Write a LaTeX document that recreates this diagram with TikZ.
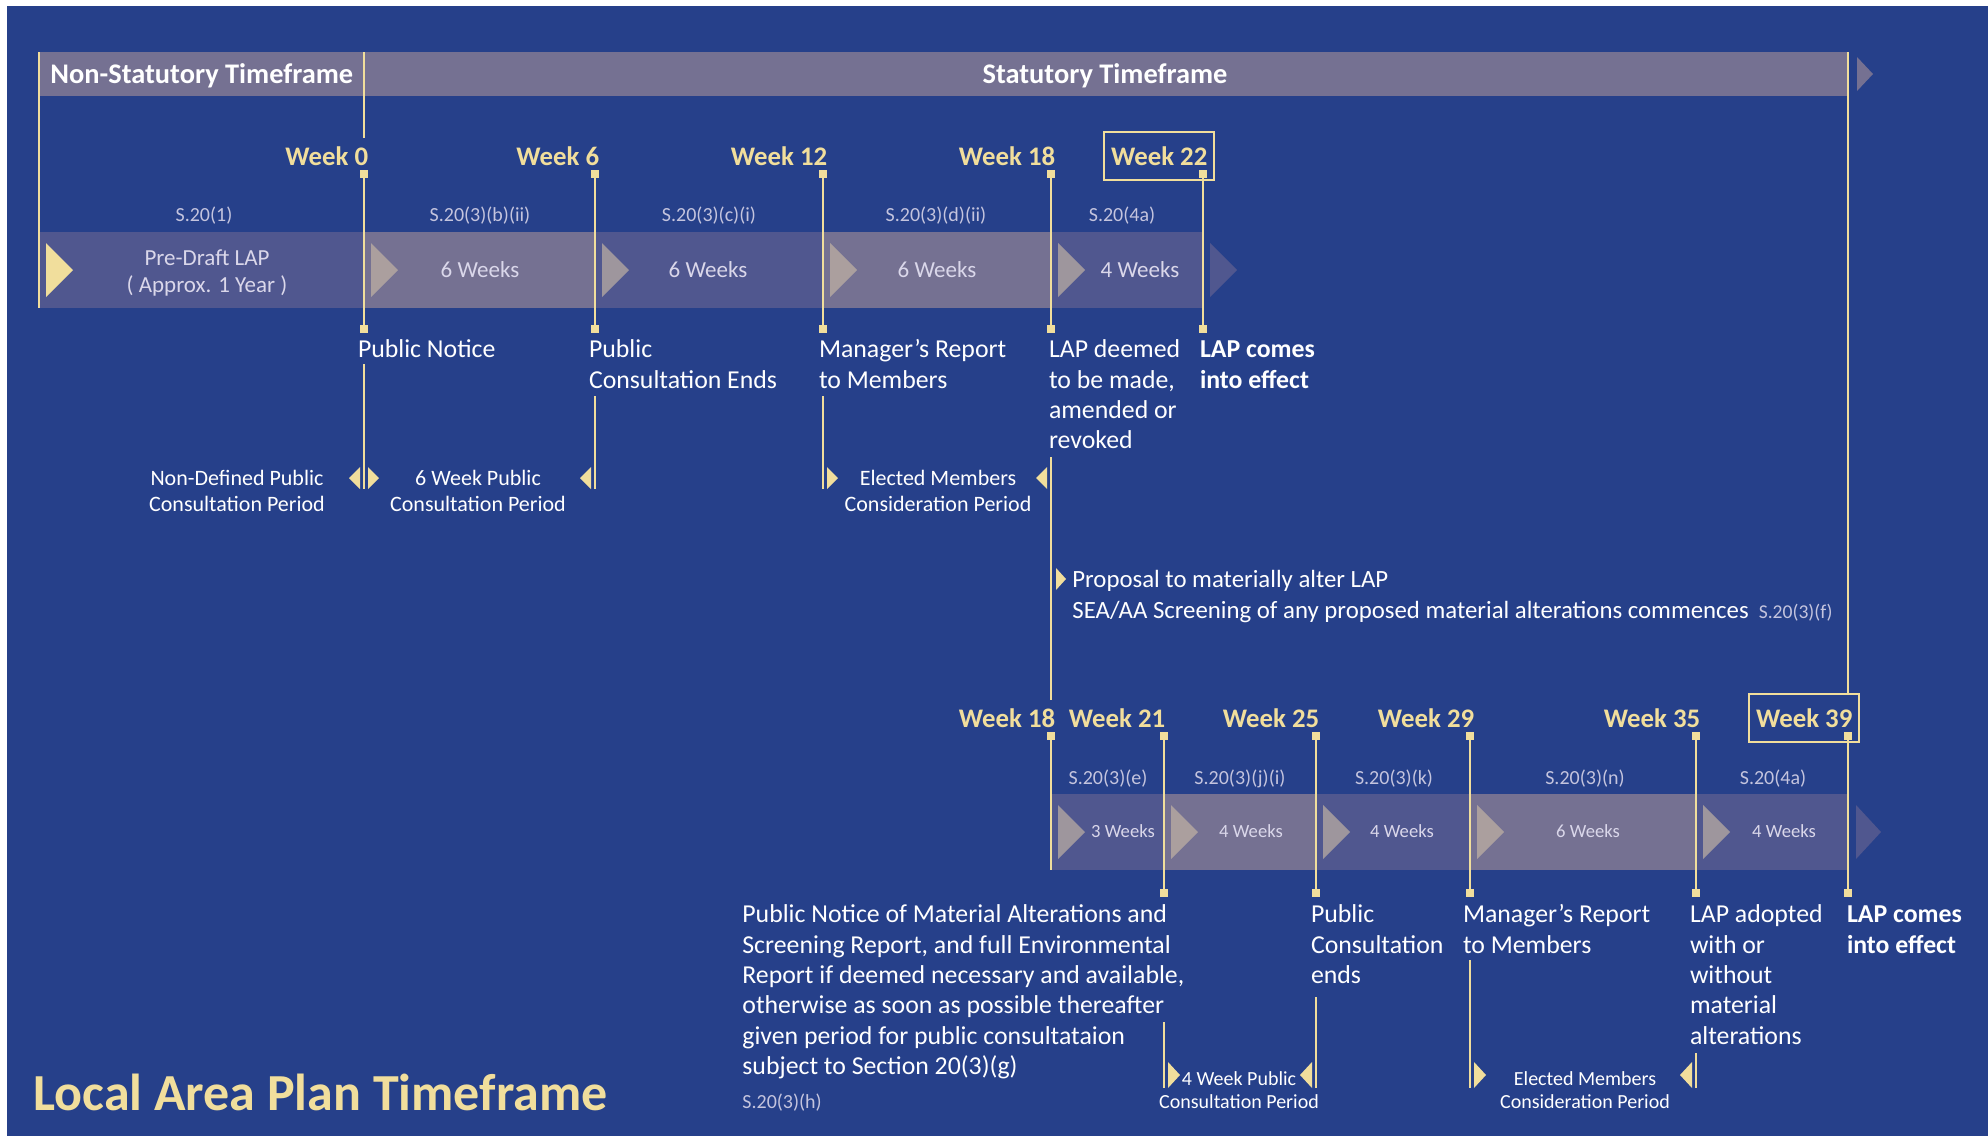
\documentclass[tikz,border=0pt]{standalone}
\usepackage{fontspec}
\setmainfont{Carlito}
\usepackage{tikz}
\usetikzlibrary{positioning}
\definecolor{lapblue}{RGB}{38,64,138}
\definecolor{lapyellow}{RGB}{241,222,156}
\definecolor{barlight}{RGB}{117,113,146}
\definecolor{bardark}{RGB}{80,87,143}
\definecolor{arrowgrey}{RGB}{200,185,165}
\definecolor{reftext}{RGB}{196,196,222}
\definecolor{stagetext}{RGB}{218,215,234}

\begin{document}
\begin{tikzpicture}[x=0.5pt, y=-0.5pt, inner sep=0pt]
	\tikzstyle{wkline}=[draw=lapyellow, line width=1.2pt]
	\tikzstyle{wkmark}=[fill=lapyellow, minimum size=4pt, inner sep=0pt]
	\tikzstyle{week}=[text=lapyellow, font=\fontsize{13.4}{15}\selectfont\bfseries, text height=9pt, text depth=0pt]
	\tikzstyle{weekbox}=[week, draw=lapyellow, line width=1pt, inner xsep=3.5pt, inner ysep=7.5pt]
	\tikzstyle{sref}=[text=reftext, font=\fontsize{10}{12}\selectfont]
	\tikzstyle{stage}=[text=stagetext, font=\fontsize{11.5}{13.5}\selectfont, align=center]
	\tikzstyle{stagesmall}=[text=stagetext, font=\fontsize{9.3}{11}\selectfont]
	\tikzstyle{event}=[text=white, font=\fontsize{12.9}{15.2}\selectfont, align=left]
	\tikzstyle{eventbold}=[event, font=\fontsize{12.9}{15.2}\selectfont\bfseries]
	\tikzstyle{period}=[text=white, font=\fontsize{11}{13}\selectfont, align=center]
	\tikzstyle{periodsmall}=[text=white, font=\fontsize{10}{11.5}\selectfont, align=center]
	\tikzstyle{segarrow}=[fill=arrowgrey, fill opacity=0.65]
	\tikzstyle{yflag}=[fill=lapyellow]

	\useasboundingbox (0,0) rectangle (1988,1136);
	\fill[white] (0,0) rectangle (1988,1136);
	\fill[lapblue] (7,6) rectangle (1988,1136);

	% timeframe bar
	\fill[barlight] (39,52) rectangle (1848,96);
	\fill[barlight] (1857,57) -- (1873,74) -- (1857,91) -- cycle;
	\node[text=white, font=\fontsize{14.2}{16}\selectfont\bfseries, anchor=base west] (nst) at (50,83) {Non-Statutory Timeframe};
	\node[text=white, font=\fontsize{14.2}{16}\selectfont\bfseries, anchor=base] (st) at (1105,83) {Statutory Timeframe};

	% first stage bar
	\fill[bardark]  (39,232)   rectangle (364,308);
	\fill[barlight] (364,232)  rectangle (595,308);
	\fill[bardark]  (595,232)  rectangle (823,308);
	\fill[barlight] (823,232)  rectangle (1051,308);
	\fill[bardark]  (1051,232) rectangle (1203,308);
	\fill[bardark]  (1210,243) -- ++(27,27) -- ++(-27,27) -- cycle;
	\fill[yflag]    (46,243)   -- ++(27,27) -- ++(-27,27) -- cycle;
	\fill[segarrow] (371,243)  -- ++(27,27) -- ++(-27,27) -- cycle;
	\fill[segarrow] (602,243)  -- ++(27,27) -- ++(-27,27) -- cycle;
	\fill[segarrow] (830,243)  -- ++(27,27) -- ++(-27,27) -- cycle;
	\fill[segarrow] (1058,243) -- ++(27,27) -- ++(-27,27) -- cycle;

	\node[sref, anchor=base] (r1) at (204,221)  {S.20(1)};
	\node[sref, anchor=base] (r2) at (480,221)  {S.20(3)(b)(ii)};
	\node[sref, anchor=base] (r3) at (709,221)  {S.20(3)(c)(i)};
	\node[sref, anchor=base] (r4) at (936,221)  {S.20(3)(d)(ii)};
	\node[sref, anchor=base] (r5) at (1122,221) {S.20(4a)};

	\node[stage, anchor=north] (s1) at (207,246) {\strut Pre-Draft LAP\\( Approx. 1 Year )};
	\node[stage, anchor=base]  (s2) at (480,277)  {6 Weeks};
	\node[stage, anchor=base]  (s3) at (708,277)  {6 Weeks};
	\node[stage, anchor=base]  (s4) at (937,277)  {6 Weeks};
	\node[stage, anchor=base]  (s5) at (1140,277) {4 Weeks};

	% first row of milestones
	\node[wkmark] (m0a)  at (364,174)  {};
	\node[wkmark] (m0b)  at (364,329)  {};
	\node[wkmark] (m6a)  at (595,174)  {};
	\node[wkmark] (m6b)  at (595,329)  {};
	\node[wkmark] (m12a) at (823,174)  {};
	\node[wkmark] (m12b) at (823,329)  {};
	\node[wkmark] (m18a) at (1051,174) {};
	\node[wkmark] (m18b) at (1051,329) {};
	\node[wkmark] (m22a) at (1203,174) {};
	\node[wkmark] (m22b) at (1203,329) {};

	\node[week, above left=2pt and -4.5pt of m0a]  (w0)  {Week 0};
	\node[week, above left=2pt and -4.5pt of m6a]  (w6)  {Week 6};
	\node[week, above left=2pt and -4.5pt of m12a] (w12) {Week 12};
	\node[week, above left=2pt and -4.5pt of m18a] (w18) {Week 18};
	\node[weekbox, above left=-1.5pt and -4pt of m22a.south east] (w22) {Week 22};

	\node[event, below right=1.35pt and -1pt of m0b.south west]  (e0)  {\strut Public Notice};
	\node[event, below right=1.35pt and -1pt of m6b.south west]  (e6)  {\strut Public\\Consultation Ends};
	\node[event, below right=1.35pt and 0pt of m12b.south west]  (e12) {\strut Manager’s Report\\to Members};
	\node[event, below right=1.35pt and 1pt of m18b.south west]  (e18) {\strut LAP deemed\\to be made,\\amended or\\revoked};
	\node[eventbold, below right=1.35pt and 0.5pt of m22b.south west] (e22) {\strut LAP comes\\into effect};

	\coordinate (l0)  at (39,52);
	\coordinate (l1)  at (39,308);
	\coordinate (n0)  at (364,52);
	\coordinate (n1)  at (364,138);
	\coordinate (u0)  at (364,364);
	\coordinate (v0)  at (364,489);
	\coordinate (u6)  at (595,396);
	\coordinate (v6)  at (595,489);
	\coordinate (u12) at (823,396);
	\coordinate (v12) at (823,489);
	\coordinate (u18) at (1051,457);
	\coordinate (v18) at (1051,700);

	\path[wkline]
	(l0)   edge (l1)
	(n0)   edge (n1)
	(m0a)  edge (m0b)
	(m6a)  edge (m6b)
	(m12a) edge (m12b)
	(m18a) edge (m18b)
	(m22a) edge (m22b)
	(u0)   edge (v0)
	(u6)   edge (v6)
	(u12)  edge (v12)
	(u18)  edge (v18);

	\fill[yflag] (v0) ++(-4,0) -- ++(-11,-11) -- ++(11,-11) -- cycle;
	\fill[yflag] (v0) ++(4,0) -- ++(11,-11) -- ++(-11,-11) -- cycle;
	\fill[yflag] (v6) ++(-4,0) -- ++(-11,-11) -- ++(11,-11) -- cycle;
	\fill[yflag] (v12) ++(4,0) -- ++(11,-11) -- ++(-11,-11) -- cycle;
	\fill[yflag] (v12 -| u18) ++(-4,0) -- ++(-11,-11) -- ++(11,-11) -- cycle;

	\node[period, anchor=north] (p0)  at (237,467) {\strut Non-Defined Public\\Consultation Period};
	\node[period, anchor=north] (p6)  at (478,467) {\strut 6 Week Public\\Consultation Period};
	\node[period, anchor=north] (p12) at (938,467) {\strut Elected Members\\Consideration Period};

	% proposal to alter
	\fill[yflag] (1056,568) -- ++(10,11) -- ++(-10,11) -- cycle;
	\node[event, font=\fontsize{12.4}{15.5}\selectfont, anchor=north west] (pr) at (1072,565)
	{\strut Proposal to materially alter LAP\\SEA/AA Screening of any proposed material alterations commences\hspace{5pt}\textcolor{reftext}{\fontsize{9.8}{12}\selectfont S.20(3)(f)}};

	% second stage bar
	\fill[bardark]  (1051,794) rectangle (1164,870);
	\fill[barlight] (1164,794) rectangle (1316,870);
	\fill[bardark]  (1316,794) rectangle (1470,870);
	\fill[barlight] (1470,794) rectangle (1696,870);
	\fill[bardark]  (1696,794) rectangle (1848,870);
	\fill[bardark]  (1856,805) -- ++(25,27) -- ++(-25,27) -- cycle;
	\fill[segarrow] (1058,805) -- ++(27,27) -- ++(-27,27) -- cycle;
	\fill[segarrow] (1171,805) -- ++(27,27) -- ++(-27,27) -- cycle;
	\fill[segarrow] (1323,805) -- ++(27,27) -- ++(-27,27) -- cycle;
	\fill[segarrow] (1477,805) -- ++(27,27) -- ++(-27,27) -- cycle;
	\fill[segarrow] (1703,805) -- ++(27,27) -- ++(-27,27) -- cycle;

	\node[sref, anchor=base] (q1) at (1108,784) {S.20(3)(e)};
	\node[sref, anchor=base] (q2) at (1240,784) {S.20(3)(j)(i)};
	\node[sref, anchor=base] (q3) at (1394,784) {S.20(3)(k)};
	\node[sref, anchor=base] (q4) at (1585,784) {S.20(3)(n)};
	\node[sref, anchor=base] (q5) at (1773,784) {S.20(4a)};

	\node[stagesmall, anchor=base] (t1) at (1123,837) {3 Weeks};
	\node[stagesmall, anchor=base] (t2) at (1251,837) {4 Weeks};
	\node[stagesmall, anchor=base] (t3) at (1402,837) {4 Weeks};
	\node[stagesmall, anchor=base] (t4) at (1588,837) {6 Weeks};
	\node[stagesmall, anchor=base] (t5) at (1784,837) {4 Weeks};

	% second row of milestones
	\node[wkmark] (m18c) at (1051,736) {};
	\node[wkmark] (m21a) at (1164,736) {};
	\node[wkmark] (m21b) at (1164,893) {};
	\node[wkmark] (m25a) at (1316,736) {};
	\node[wkmark] (m25b) at (1316,893) {};
	\node[wkmark] (m29a) at (1470,736) {};
	\node[wkmark] (m29b) at (1470,893) {};
	\node[wkmark] (m35a) at (1696,736) {};
	\node[wkmark] (m35b) at (1696,893) {};
	\node[wkmark] (m39a) at (1848,736) {};
	\node[wkmark] (m39b) at (1848,893) {};

	\node[week, above left=2pt and -4.5pt of m18c] (w18b) {Week 18};
	\node[week, above left=2pt and -3pt of m21a]   (w21)  {Week 21};
	\node[week, above left=2pt and -4pt of m25a]   (w25)  {Week 25};
	\node[week, above left=2pt and -4.5pt of m29a] (w29)  {Week 29};
	\node[week, above left=2pt and -4.5pt of m35a] (w35)  {Week 35};
	\node[weekbox, above left=-1.5pt and -4pt of m39a.south east] (w39) {Week 39};

	\node[event, anchor=north west] (e21) at (742,901)
	{\strut Public Notice of Material Alterations and\\Screening Report, and full Environmental\\Report if deemed necessary and available,\\otherwise as soon as possible thereafter\\given period for public consultataion\\subject to Section 20(3)(g)};
	\node[sref, anchor=base west] (h21) at (742,1108) {S.20(3)(h)};
	\node[event, below right=1.85pt and -0.5pt of m25b.south west] (e25) {\strut Public\\Consultation\\ends};
	\node[event, below right=1.85pt and -1.5pt of m29b.south west] (e29) {\strut Manager’s Report\\to Members};
	\node[event, below right=1.85pt and -1pt of m35b.south west]   (e35) {\strut LAP adopted\\with or\\without\\material\\alterations};
	\node[eventbold, below right=1.85pt and 1.5pt of m39b.south west] (e39) {\strut LAP comes\\into effect};

	\coordinate (x18) at (1051,870);
	\coordinate (n39) at (1848,52);
	\coordinate (u21) at (1164,1022);
	\coordinate (v21) at (1164,1088);
	\coordinate (u25) at (1316,997);
	\coordinate (v25) at (1316,1088);
	\coordinate (u29) at (1470,960);
	\coordinate (v29) at (1470,1088);
	\coordinate (u35) at (1696,1053);
	\coordinate (v35) at (1696,1088);

	\path[wkline]
	(m18c) edge (x18)
	(n39)  edge (n39 |- w39.north)
	(m21a) edge (m21b)
	(m25a) edge (m25b)
	(m29a) edge (m29b)
	(m35a) edge (m35b)
	(m39a) edge (m39b)
	(u21)  edge (v21)
	(u25)  edge (v25)
	(u29)  edge (v29)
	(u35)  edge (v35);

	\fill[yflag] (v21) ++(4,0) -- ++(12,-13) -- ++(-12,-13) -- cycle;
	\fill[yflag] (v25) ++(-4,0) -- ++(-12,-13) -- ++(12,-13) -- cycle;
	\fill[yflag] (v29) ++(4,0) -- ++(12,-13) -- ++(-12,-13) -- cycle;
	\fill[yflag] (v35) ++(-4,0) -- ++(-12,-13) -- ++(12,-13) -- cycle;

	\node[periodsmall, anchor=north] (p21) at (1239,1069) {\strut 4 Week Public\\Consultation Period};
	\node[periodsmall, anchor=north] (p29) at (1585,1069) {\strut Elected Members\\Consideration Period};

	% title
	\node[text=lapyellow, font=\fontsize{26}{30}\selectfont\bfseries, anchor=base west] (title) at (33,1110) {Local Area Plan Timeframe};
\end{tikzpicture}
\end{document}
